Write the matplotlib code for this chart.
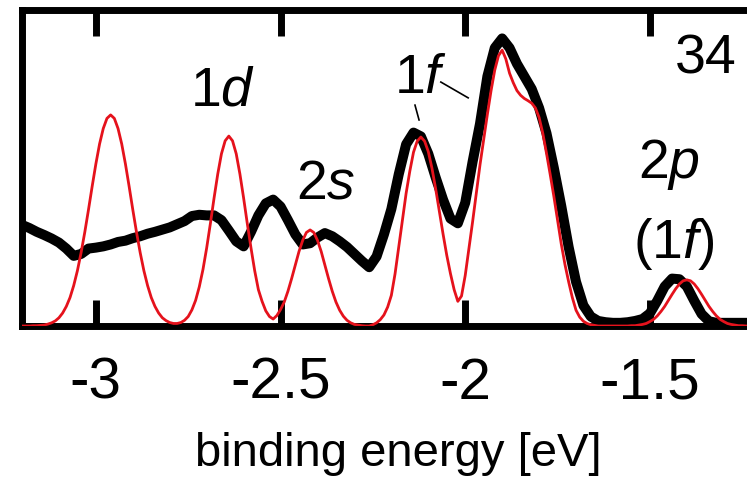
import matplotlib
matplotlib.use("Agg")
import matplotlib.pyplot as plt
from matplotlib.ticker import FixedLocator

plt.rcParams['font.family'] = ['Liberation Sans', 'DejaVu Sans']
plt.rcParams['mathtext.fontset'] = 'custom'
plt.rcParams['mathtext.rm'] = 'Liberation Sans'
plt.rcParams['mathtext.it'] = 'Liberation Sans:italic'

# binding energy grid of the measured spectrum [eV]
energy_meas = [-3.20, -3.18, -3.16, -3.14, -3.12, -3.10, -3.08, -3.06, -3.04, -3.02,
               -3.00, -2.98, -2.96, -2.94, -2.92, -2.90, -2.88, -2.86, -2.84, -2.82,
               -2.80, -2.78, -2.76, -2.74, -2.72, -2.70, -2.68, -2.66, -2.64, -2.62,
               -2.60, -2.58, -2.56, -2.54, -2.52, -2.50, -2.48, -2.46, -2.44, -2.42,
               -2.40, -2.38, -2.36, -2.34, -2.32, -2.30, -2.28, -2.26, -2.24, -2.22,
               -2.20, -2.18, -2.16, -2.14, -2.12, -2.10, -2.08, -2.06, -2.04, -2.02,
               -2.00, -1.98, -1.96, -1.94, -1.92, -1.90, -1.88, -1.86, -1.84, -1.82,
               -1.80, -1.78, -1.76, -1.74, -1.72, -1.70, -1.68, -1.66, -1.64, -1.62,
               -1.60, -1.58, -1.56, -1.54, -1.52, -1.50, -1.48, -1.46, -1.44, -1.42,
               -1.40, -1.38, -1.36, -1.34, -1.32, -1.30, -1.28, -1.26, -1.24, -1.22,
               -1.20]

# measured photoelectron spectrum (black)
measured = [0.320, 0.310, 0.298, 0.288, 0.277, 0.264, 0.245, 0.222, 0.228, 0.245,
            0.248, 0.252, 0.258, 0.266, 0.270, 0.278, 0.284, 0.292, 0.298, 0.305,
            0.312, 0.322, 0.332, 0.348, 0.352, 0.350, 0.350, 0.335, 0.302, 0.268,
            0.252, 0.298, 0.350, 0.388, 0.400, 0.378, 0.335, 0.290, 0.258, 0.262,
            0.280, 0.294, 0.284, 0.268, 0.250, 0.228, 0.206, 0.186, 0.220, 0.290,
            0.370, 0.480, 0.575, 0.612, 0.600, 0.545, 0.470, 0.400, 0.340, 0.325,
            0.390, 0.520, 0.640, 0.790, 0.880, 0.910, 0.880, 0.830, 0.790, 0.750,
            0.690, 0.610, 0.500, 0.380, 0.250, 0.140, 0.065, 0.030, 0.016, 0.012,
            0.010, 0.010, 0.012, 0.016, 0.022, 0.040, 0.080, 0.125, 0.150, 0.148,
            0.125, 0.080, 0.038, 0.015, 0.010, 0.010, 0.010, 0.010, 0.010, 0.010,
            0.010]

# binding energy grid of the calculated spectrum [eV]
energy_calc = [-3.20, -3.19, -3.18, -3.17, -3.16, -3.15, -3.14, -3.13, -3.12, -3.11,
               -3.10, -3.09, -3.08, -3.07, -3.06, -3.05, -3.04, -3.03, -3.02, -3.01,
               -3.00, -2.99, -2.98, -2.97, -2.96, -2.95, -2.94, -2.93, -2.92, -2.91,
               -2.90, -2.89, -2.88, -2.87, -2.86, -2.85, -2.84, -2.83, -2.82, -2.81,
               -2.80, -2.79, -2.78, -2.77, -2.76, -2.75, -2.74, -2.73, -2.72, -2.71,
               -2.70, -2.69, -2.68, -2.67, -2.66, -2.65, -2.64, -2.63, -2.62, -2.61,
               -2.60, -2.59, -2.58, -2.57, -2.56, -2.55, -2.54, -2.53, -2.52, -2.51,
               -2.50, -2.49, -2.48, -2.47, -2.46, -2.45, -2.44, -2.43, -2.42, -2.41,
               -2.40, -2.39, -2.38, -2.37, -2.36, -2.35, -2.34, -2.33, -2.32, -2.31,
               -2.30, -2.29, -2.28, -2.27, -2.26, -2.25, -2.24, -2.23, -2.22, -2.21,
               -2.20, -2.19, -2.18, -2.17, -2.16, -2.15, -2.14, -2.13, -2.12, -2.11,
               -2.10, -2.09, -2.08, -2.07, -2.06, -2.05, -2.04, -2.03, -2.02, -2.01,
               -2.00, -1.99, -1.98, -1.97, -1.96, -1.95, -1.94, -1.93, -1.92, -1.91,
               -1.90, -1.89, -1.88, -1.87, -1.86, -1.85, -1.84, -1.83, -1.82, -1.81,
               -1.80, -1.79, -1.78, -1.77, -1.76, -1.75, -1.74, -1.73, -1.72, -1.71,
               -1.70, -1.69, -1.68, -1.67, -1.66, -1.65, -1.64, -1.63, -1.62, -1.61,
               -1.60, -1.59, -1.58, -1.57, -1.56, -1.55, -1.54, -1.53, -1.52, -1.51,
               -1.50, -1.49, -1.48, -1.47, -1.46, -1.45, -1.44, -1.43, -1.42, -1.41,
               -1.40, -1.39, -1.38, -1.37, -1.36, -1.35, -1.34, -1.33, -1.32, -1.31,
               -1.30, -1.29, -1.28, -1.27, -1.26, -1.25, -1.24, -1.23, -1.22, -1.21,
               -1.20]

# calculated spectrum (red)
calculated = [0.000, 0.000, 0.000, 0.001, 0.001, 0.002, 0.003, 0.006, 0.010, 0.016,
              0.026, 0.041, 0.062, 0.090, 0.128, 0.175, 0.232, 0.297, 0.368, 0.442,
              0.513, 0.576, 0.625, 0.657, 0.668, 0.657, 0.625, 0.576, 0.513, 0.442,
              0.368, 0.297, 0.232, 0.175, 0.128, 0.090, 0.062, 0.041, 0.026, 0.017,
              0.011, 0.008, 0.008, 0.011, 0.018, 0.030, 0.051, 0.081, 0.124, 0.179,
              0.247, 0.324, 0.405, 0.481, 0.545, 0.586, 0.601, 0.586, 0.545, 0.481,
              0.405, 0.324, 0.247, 0.175, 0.115, 0.078, 0.048, 0.030, 0.022, 0.033,
              0.052, 0.076, 0.110, 0.150, 0.193, 0.236, 0.271, 0.296, 0.304, 0.296,
              0.271, 0.236, 0.193, 0.150, 0.110, 0.076, 0.050, 0.031, 0.018, 0.010,
              0.005, 0.003, 0.001, 0.000, 0.000, 0.004, 0.010, 0.020, 0.035, 0.060,
              0.097, 0.165, 0.250, 0.335, 0.420, 0.490, 0.550, 0.585, 0.598, 0.585,
              0.552, 0.499, 0.434, 0.363, 0.291, 0.224, 0.166, 0.115, 0.078, 0.095,
              0.160, 0.245, 0.330, 0.420, 0.510, 0.590, 0.670, 0.745, 0.810, 0.855,
              0.873, 0.845, 0.800, 0.770, 0.745, 0.730, 0.720, 0.713, 0.705, 0.690,
              0.660, 0.610, 0.547, 0.480, 0.410, 0.335, 0.260, 0.195, 0.140, 0.090,
              0.050, 0.028, 0.015, 0.008, 0.004, 0.002, 0.000, 0.000, 0.000, 0.000,
              0.000, 0.000, 0.000, 0.000, 0.000, 0.001, 0.001, 0.003, 0.005, 0.008,
              0.014, 0.021, 0.032, 0.046, 0.062, 0.081, 0.100, 0.118, 0.133, 0.143,
              0.146, 0.143, 0.133, 0.118, 0.100, 0.081, 0.062, 0.046, 0.032, 0.021,
              0.014, 0.008, 0.005, 0.003, 0.001, 0.001, 0.000, 0.000, 0.000, 0.000,
              0.000]

tick_values = [-3, -2.5, -2, -1.5]
tick_labels = ["-3", "-2.5", "-2", "-1.5"]

fig = plt.figure(figsize=(7.47, 4.83), dpi=100)
ax = fig.add_axes([22/747, 1-326/483, (760.7-22)/747, 316/483])

ax.plot(energy_meas, measured, color='black', lw=7.2, solid_capstyle='round',
        solid_joinstyle='round', zorder=2)
ax.plot(energy_calc, calculated, color='#e5121c', lw=2.0, zorder=3)

ax.set_xlim(-3.2, -1.2)
ax.set_ylim(0, 1)

for s in ['left', 'top', 'bottom']:
    ax.spines[s].set_linewidth(5)
ax.spines['right'].set_visible(False)

ax.set_yticks([])
ax.set_xticks(tick_values)
ax.set_xticklabels(tick_labels, fontsize=42)
ax.tick_params(axis='x', which='major', direction='in', length=19, width=5,
               top=True, bottom=True, pad=22)
ax.xaxis.set_minor_locator(FixedLocator(tick_values))
ax.tick_params(axis='x', which='minor', direction='out', length=10, width=5,
               top=False, bottom=True, labelbottom=False)

ax.set_xlabel("binding energy [eV]", fontsize=34)
ax.xaxis.set_label_coords(0.509, -0.335)

fs = 40
ax.text(-2.656, 0.699, r"1$\mathit{d}$", fontsize=fs, ha='center', va='baseline')
ax.text(-2.377, 0.405, r"2$\mathit{s}$", fontsize=fs, ha='center', va='baseline')
ax.text(-2.122, 0.737, r"1$\mathit{f}$", fontsize=fs, ha='center', va='baseline')
ax.text(-1.350, 0.800, "34", fontsize=fs, ha='center', va='baseline')
ax.text(-1.448, 0.468, r"2$\mathit{p}$", fontsize=fs, ha='center', va='baseline')
ax.text(-1.434, 0.215, r"(1$\mathit{f}$)", fontsize=fs, ha='center', va='baseline')

ax.plot([-2.136, -2.125], [0.699, 0.652], color='black', lw=1.2)
ax.plot([-2.066, -1.992], [0.772, 0.722], color='black', lw=1.2)

fig.savefig("out.png", dpi=100)
